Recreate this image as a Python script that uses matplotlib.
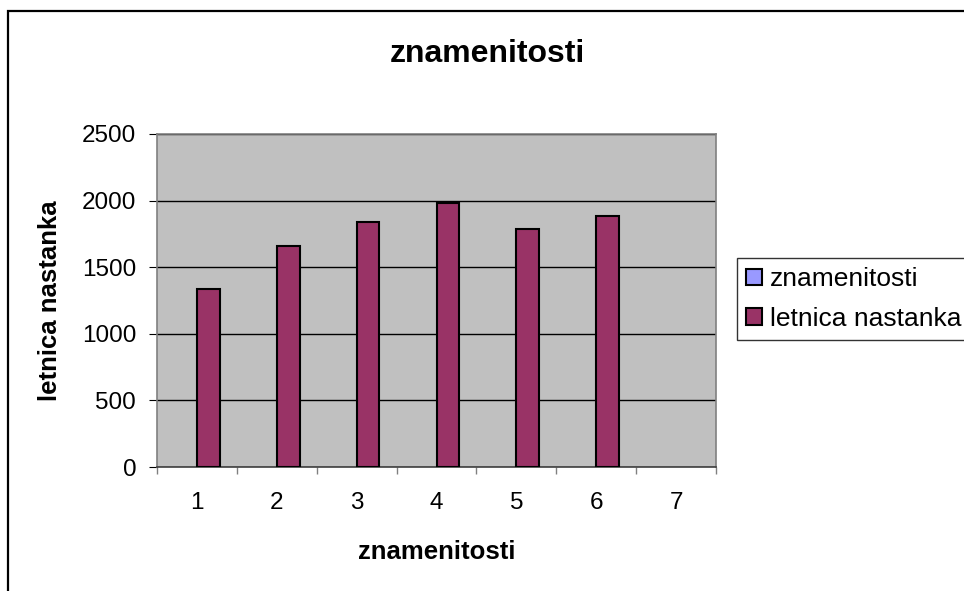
import numpy as np
import matplotlib.pyplot as plt
from matplotlib.patches import Rectangle

plt.rcParams['font.family'] = ['Liberation Sans', 'DejaVu Sans']

# chart data
categories = ['1', '2', '3', '4', '5', '6', '7']
znamenitosti = [np.nan] * 7          # series in the legend, no values shown
letnica = [1340, 1660, 1840, 1985, 1790, 1885, np.nan]
yticks = [0, 500, 1000, 1500, 2000, 2500]

fig = plt.figure(figsize=(9.64, 5.91), dpi=100)
fig.patch.set_facecolor('white')

# outer chart border (right and bottom run off the picture)
fig.patches.append(Rectangle((8 / 964, -0.05), 1.2, 1 - 11 / 591 + 0.05,
                             transform=fig.transFigure, fill=False,
                             edgecolor='black', linewidth=1.6))

ax = fig.add_axes([157 / 964, 1 - 467 / 591, (716 - 157) / 964, (467 - 134) / 591])
ax.set_facecolor('#C0C0C0')

x = np.arange(len(categories))
w = 0.286
ax.bar(x - w / 2, znamenitosti, w, color='#9999FF', edgecolor='black',
       linewidth=1.5, label='znamenitosti')
ax.bar(x + w / 2, letnica, w, color='#993366', edgecolor='black',
       linewidth=1.5, label='letnica nastanka', zorder=3)

ax.set_xlim(-0.5, len(categories) - 0.5)
ax.set_ylim(0, 2500)
ax.set_yticks(yticks)
ax.set_yticklabels([str(v) for v in yticks])
ax.yaxis.grid(True, color='black', linewidth=1)
ax.set_axisbelow(True)

ax.set_xticks(x)
ax.set_xticklabels(categories)
ax.set_xticks(np.arange(len(categories) + 1) - 0.5, minor=True)
ax.tick_params(axis='x', which='major', length=0, pad=18, labelsize=17.5)
ax.tick_params(axis='x', which='minor', length=5, color='#808080', width=1, direction='out')
ax.tick_params(axis='y', length=6, pad=9, labelsize=17.5, color='black', direction='out')

for side in ['top', 'right', 'left']:
    ax.spines[side].set_color('#808080')
    ax.spines[side].set_linewidth(1.2)
ax.spines['bottom'].set_color('#404040')
ax.spines['bottom'].set_linewidth(1.2)

ax.set_xlabel('znamenitosti', fontsize=18.5, fontweight='bold', labelpad=19)
ax.set_ylabel('letnica nastanka', fontsize=18.5, fontweight='bold', labelpad=14)
fig.text(487 / 964, 1 - 54 / 591, 'znamenitosti', fontsize=23, fontweight='bold',
         ha='center', va='center')

leg = ax.legend(loc='upper left', bbox_to_anchor=(737 / 964, 1 - 258 / 591),
                bbox_transform=fig.transFigure, fontsize=19, frameon=True,
                fancybox=False, shadow=False, handlelength=0.6, handleheight=0.6,
                handletextpad=0.3, labelspacing=0.6, borderpad=0.35,
                borderaxespad=0)
leg.get_frame().set_edgecolor('black')
leg.get_frame().set_linewidth(1)

fig.savefig('out.png', dpi=100)
